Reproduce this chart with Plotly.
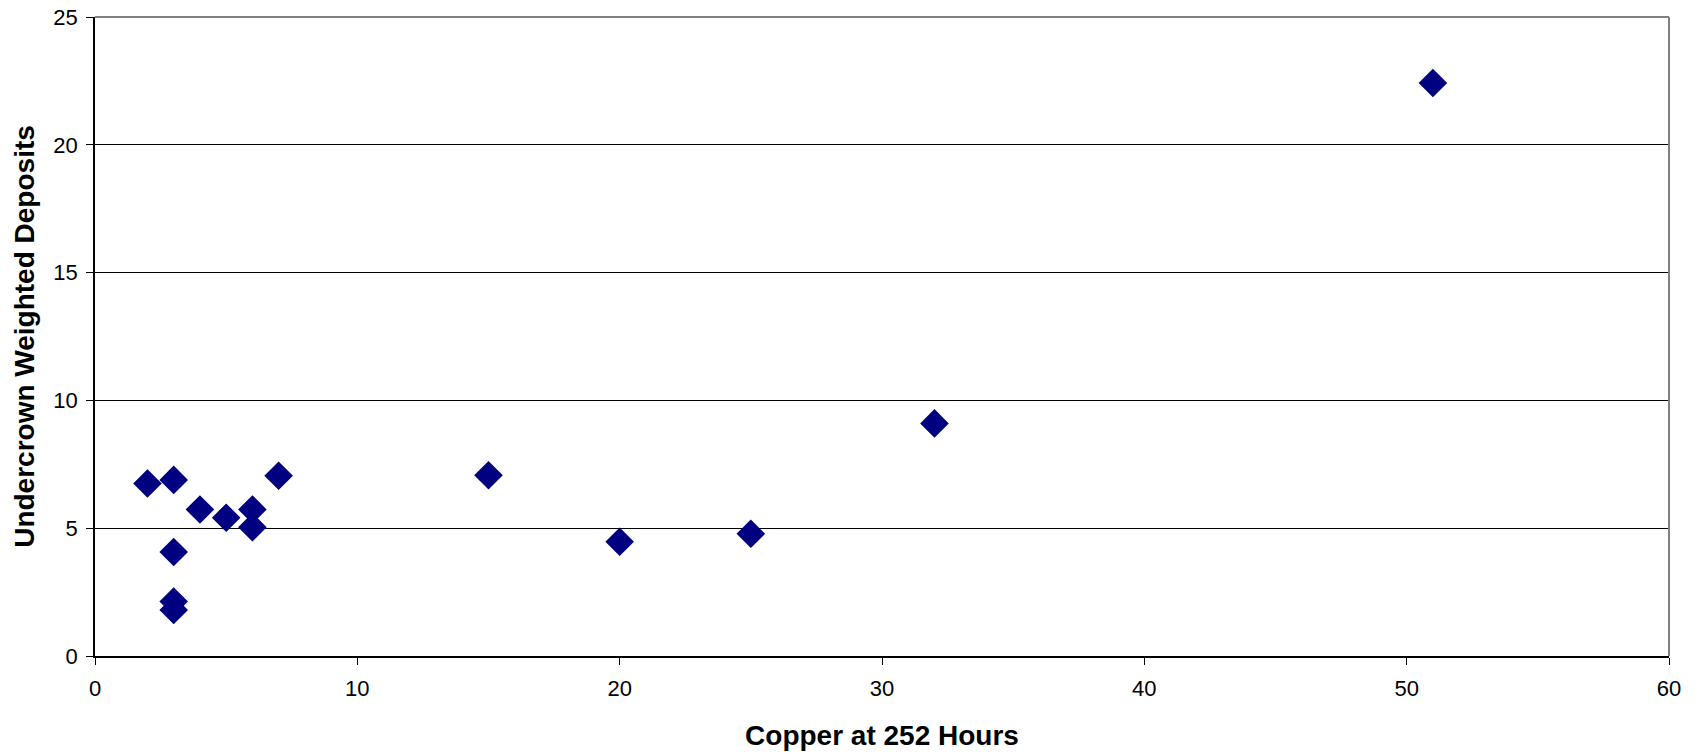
import plotly.graph_objects as go

copper = [2, 3, 4, 5, 6, 6, 7, 3, 3, 3, 15, 20, 25, 32, 51]
deposits = [6.75, 6.89, 5.73, 5.41, 5.73, 5.04, 7.05, 4.07, 2.13, 1.80, 7.07, 4.47, 4.78, 9.10, 22.42]

x_ticks = [0, 10, 20, 30, 40, 50, 60]
y_ticks = [0, 5, 10, 15, 20, 25]

FONT = "Liberation Sans, Arial, sans-serif"

fig = go.Figure()
fig.add_trace(go.Scatter(
    x=copper, y=deposits, mode="markers",
    marker=dict(symbol="diamond", size=22, color="#000080",
                line=dict(width=0)),
    showlegend=False,
))

fig.update_layout(
    width=1703, height=754,
    margin=dict(l=95, r=34, t=17, b=98, autoexpand=False),
    paper_bgcolor="white", plot_bgcolor="white",
    font=dict(family=FONT, color="black", size=22),
    xaxis=dict(
        range=[0, 60], tickvals=x_ticks, showgrid=False, zeroline=False,
        automargin=False,
        showline=True, linecolor="black", linewidth=1.5,
        ticks="outside", ticklen=7, tickcolor="black", tickwidth=1,
        ticklabelstandoff=5,
        tickfont=dict(size=22),
        title=dict(text="<b>Copper at 252 Hours</b>", font=dict(size=28), standoff=25),
    ),
    yaxis=dict(
        range=[0, 25], tickvals=y_ticks, showgrid=True, gridcolor="black", gridwidth=1,
        zeroline=False, automargin=False,
        showline=True, linecolor="black", linewidth=1.5,
        ticks="outside", ticklen=7, tickcolor="black", tickwidth=1,
        ticklabelstandoff=4,
        tickfont=dict(size=22),
        title=dict(text="<b>Undercrown Weighted Deposits</b>", font=dict(size=28), standoff=11),
    ),
    shapes=[
        dict(type="line", xref="paper", yref="paper", x0=0, x1=1, y0=1, y1=1,
             line=dict(color="#808080", width=2)),
        dict(type="line", xref="paper", yref="paper", x0=1, x1=1, y0=0, y1=1,
             line=dict(color="#808080", width=2)),
    ],
)

fig.write_html("out.html")
